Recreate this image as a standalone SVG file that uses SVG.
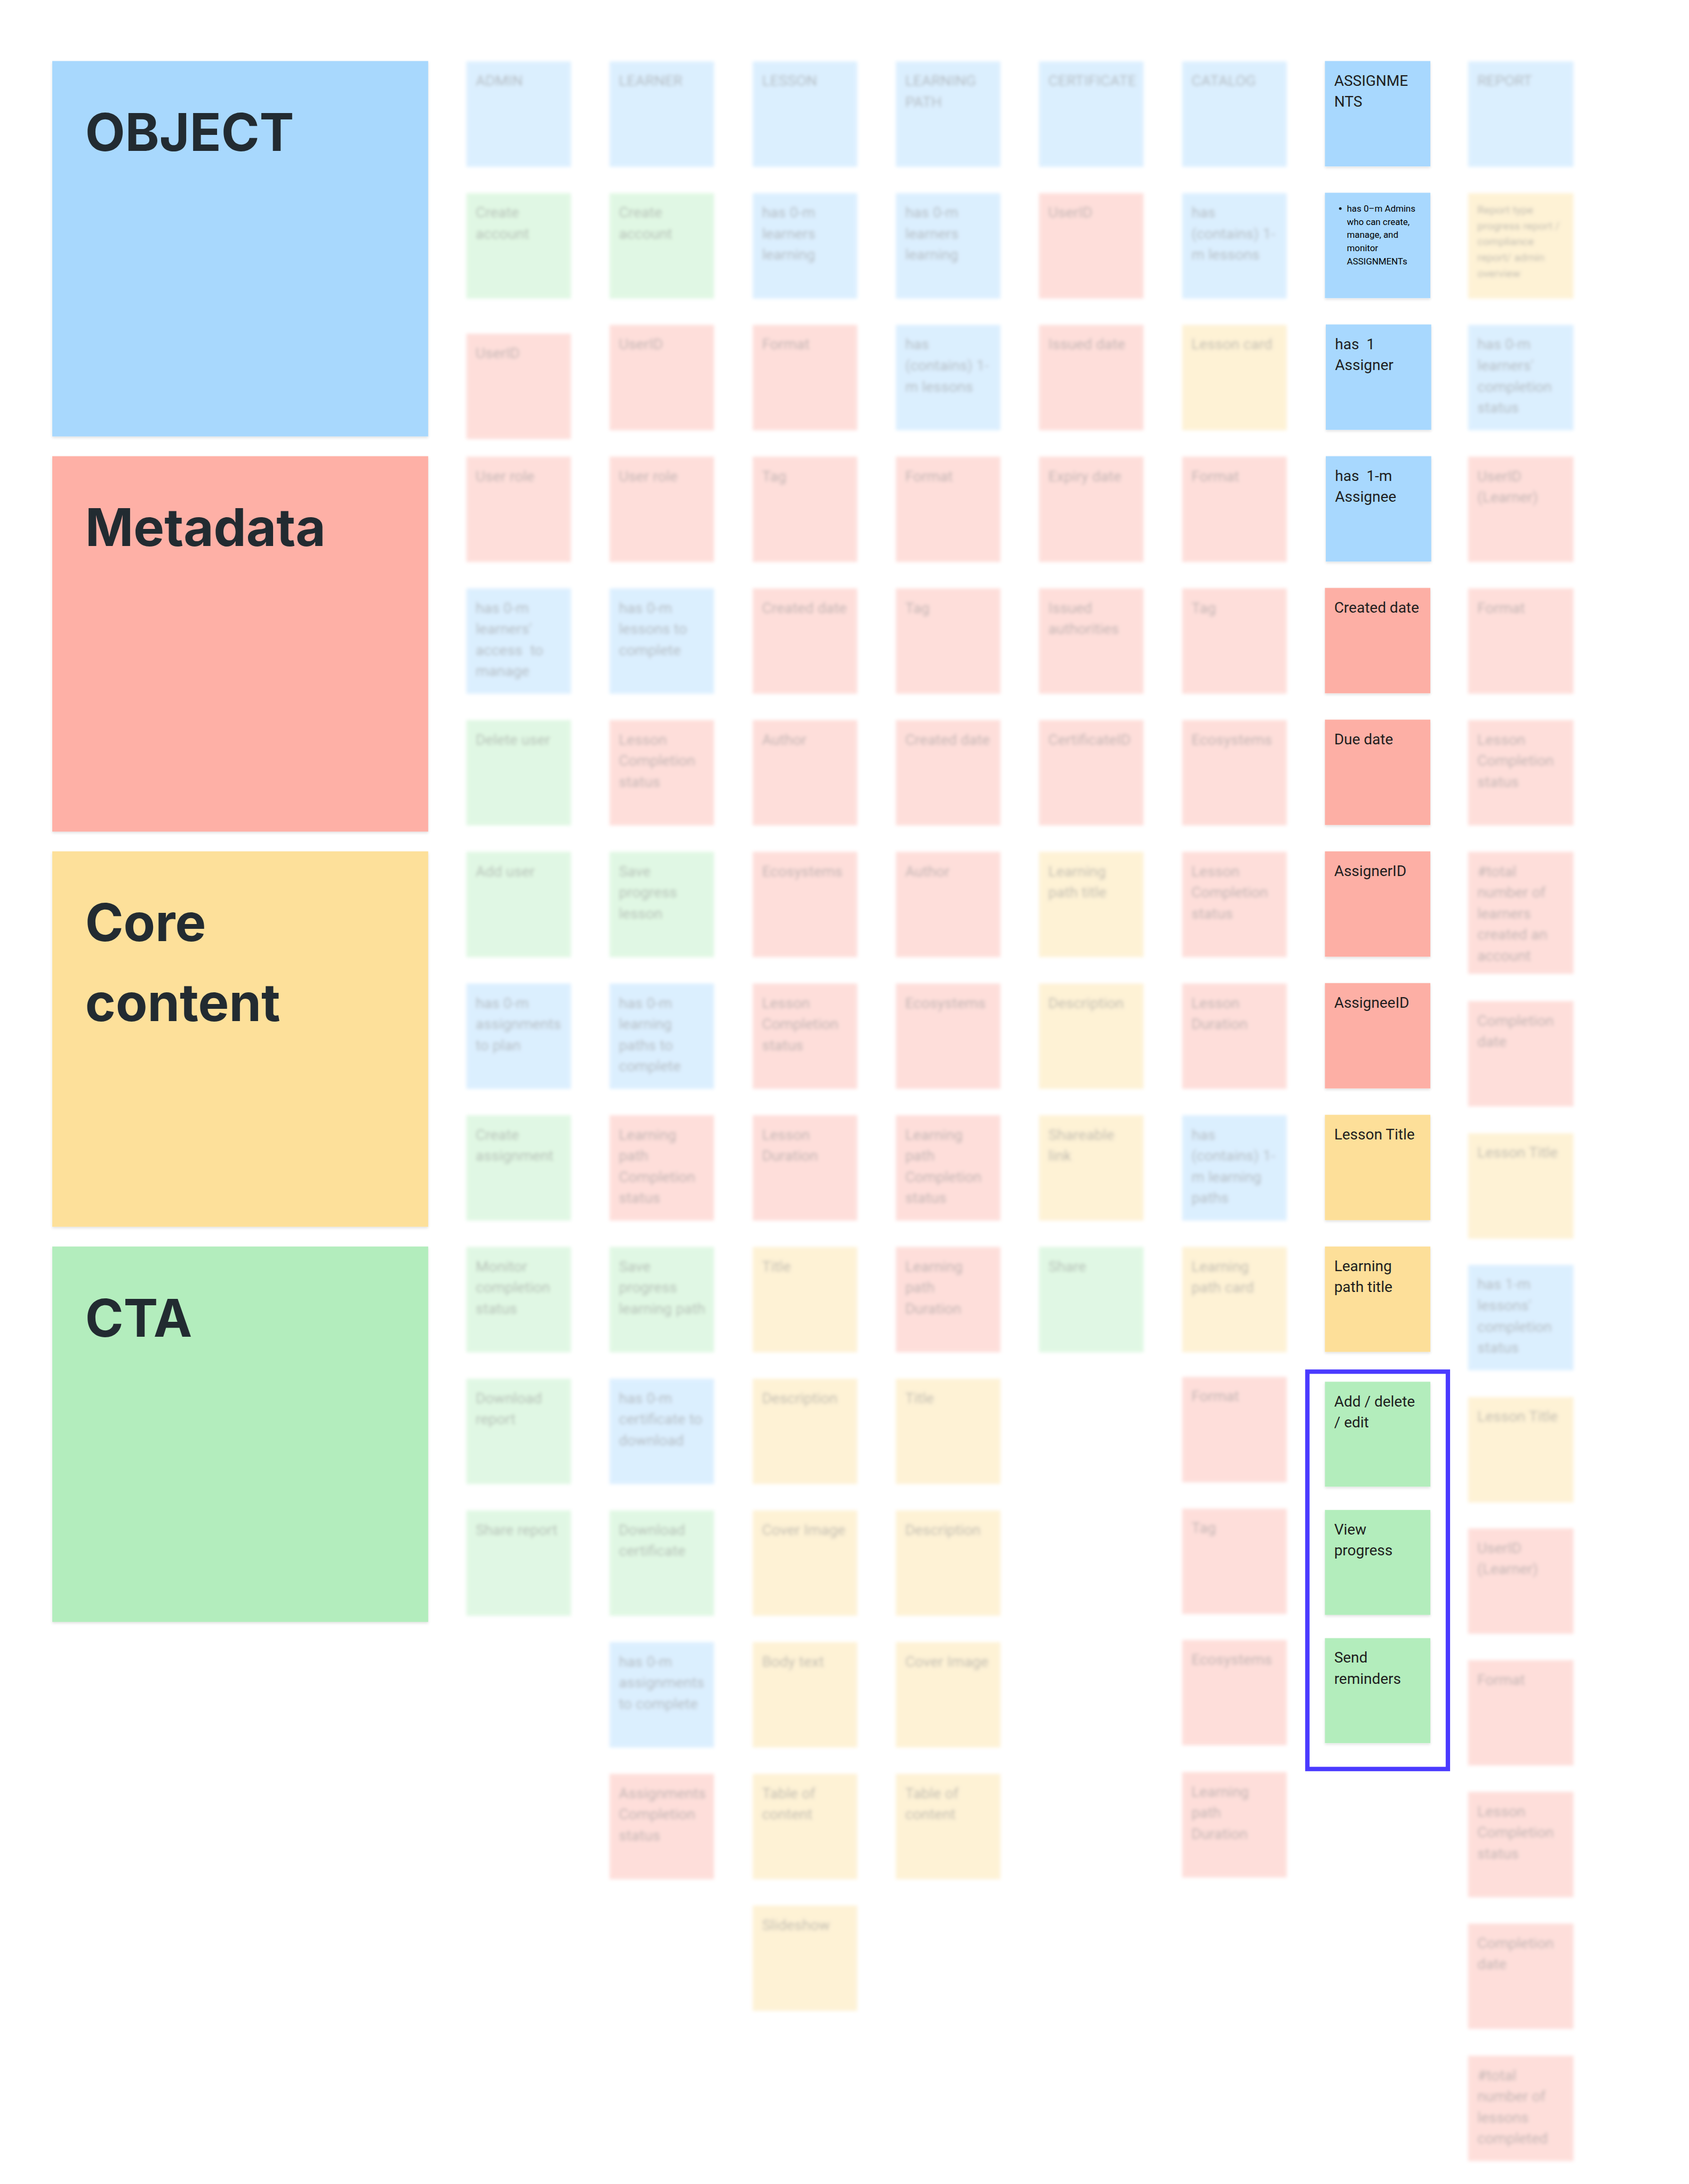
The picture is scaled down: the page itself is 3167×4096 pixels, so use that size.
<svg xmlns="http://www.w3.org/2000/svg" width="3167" height="4096" viewBox="0 0 3167 4096">
<defs>
<style>
.t{font-family:Roboto,"Liberation Sans",sans-serif;font-size:34px;fill:#1e1e1e}
.sm{font-family:Roboto,"Liberation Sans",sans-serif;font-size:20.5px;fill:#000}
.rs{font-family:Roboto,"Liberation Sans",sans-serif;font-size:25px;fill:#1e1e1e}
.big{font-family:Inter,"Liberation Sans",sans-serif;font-weight:700;font-size:118px;fill:#222b31}
.b{fill:#a8d8fe}.r{fill:#fdafa5}.y{fill:#fddf99}.g{fill:#b3edbc}
.bb{fill:#a8d8fd}.br{fill:#feb0a6}.by{fill:#fde09a}.bg{fill:#b3edbd}
#faded .t,#faded .rs{fill:#111}
</style>
<filter id="blur" x="-3%" y="-3%" width="106%" height="106%"><feGaussianBlur stdDeviation="4"/></filter>
<filter id="sh" x="-5%" y="-5%" width="110%" height="115%"><feDropShadow dx="0" dy="3" stdDeviation="3" flood-color="#000" flood-opacity="0.12"/></filter>
</defs>
<rect width="3167" height="4096" fill="#ffffff"/>
<g transform="scale(0.823453)">
<!-- category boxes -->
<g id="cat-object"><rect class="bb" x="119" y="139" width="856" height="855" filter="url(#sh)"/><text class="big" x="194" y="344">OBJECT</text></g>
<g id="cat-metadata"><rect class="br" x="119" y="1039" width="856" height="855" filter="url(#sh)"/><text class="big" x="194" y="1244">Metadata</text></g>
<g id="cat-core"><rect class="by" x="119" y="1939" width="856" height="855" filter="url(#sh)"/><text class="big" x="194" y="2144">Core<tspan x="194" dy="182">content</tspan></text></g>
<g id="cat-cta"><rect class="bg" x="119" y="2839" width="856" height="855" filter="url(#sh)"/><text class="big" x="194" y="3044">CTA</text></g>

<!-- faded, blurred columns -->
<g id="faded" opacity="0.4" filter="url(#blur)">
<g id="admin-0"><rect class="b" x="1062" y="140" width="238" height="240"/><text class="t" x="1083" y="196">ADMIN</text></g>
<g id="admin-1"><rect class="g" x="1062" y="440" width="238" height="240"/><text class="t" x="1083" y="496">Create<tspan x="1083" dy="48">account</tspan></text></g>
<g id="admin-2"><rect class="r" x="1062" y="760" width="238" height="240"/><text class="t" x="1083" y="816">UserID</text></g>
<g id="admin-3"><rect class="r" x="1062" y="1040" width="238" height="240"/><text class="t" x="1083" y="1096">User role</text></g>
<g id="admin-4"><rect class="b" x="1062" y="1340" width="238" height="240"/><text class="t" x="1083" y="1396" xml:space="preserve">has 0-m<tspan x="1083" dy="48">learners'</tspan><tspan x="1083" dy="48">access  to</tspan><tspan x="1083" dy="48">manage</tspan></text></g>
<g id="admin-5"><rect class="g" x="1062" y="1640" width="238" height="240"/><text class="t" x="1083" y="1696">Delete user</text></g>
<g id="admin-6"><rect class="g" x="1062" y="1940" width="238" height="240"/><text class="t" x="1083" y="1996">Add user</text></g>
<g id="admin-7"><rect class="b" x="1062" y="2240" width="238" height="240"/><text class="t" x="1083" y="2296">has 0-m<tspan x="1083" dy="48">assignments</tspan><tspan x="1083" dy="48">to plan</tspan></text></g>
<g id="admin-8"><rect class="g" x="1062" y="2540" width="238" height="240"/><text class="t" x="1083" y="2596">Create<tspan x="1083" dy="48">assignment</tspan></text></g>
<g id="admin-9"><rect class="g" x="1062" y="2840" width="238" height="240"/><text class="t" x="1083" y="2896">Monitor<tspan x="1083" dy="48">completion</tspan><tspan x="1083" dy="48">status</tspan></text></g>
<g id="admin-10"><rect class="g" x="1062" y="3140" width="238" height="240"/><text class="t" x="1083" y="3196">Download<tspan x="1083" dy="48">report</tspan></text></g>
<g id="admin-11"><rect class="g" x="1062" y="3440" width="238" height="240"/><text class="t" x="1083" y="3496">Share report</text></g>

<g id="learner-0"><rect class="b" x="1388" y="140" width="238" height="240"/><text class="t" x="1409" y="196">LEARNER</text></g>
<g id="learner-1"><rect class="g" x="1388" y="440" width="238" height="240"/><text class="t" x="1409" y="496">Create<tspan x="1409" dy="48">account</tspan></text></g>
<g id="learner-2"><rect class="r" x="1388" y="740" width="238" height="240"/><text class="t" x="1409" y="796">UserID</text></g>
<g id="learner-3"><rect class="r" x="1388" y="1040" width="238" height="240"/><text class="t" x="1409" y="1096">User role</text></g>
<g id="learner-4"><rect class="b" x="1388" y="1340" width="238" height="240"/><text class="t" x="1409" y="1396">has 0-m<tspan x="1409" dy="48">lessons to</tspan><tspan x="1409" dy="48">complete</tspan></text></g>
<g id="learner-5"><rect class="r" x="1388" y="1640" width="238" height="240"/><text class="t" x="1409" y="1696">Lesson<tspan x="1409" dy="48">Completion</tspan><tspan x="1409" dy="48">status</tspan></text></g>
<g id="learner-6"><rect class="g" x="1388" y="1940" width="238" height="240"/><text class="t" x="1409" y="1996">Save<tspan x="1409" dy="48">progress</tspan><tspan x="1409" dy="48">lesson</tspan></text></g>
<g id="learner-7"><rect class="b" x="1388" y="2240" width="238" height="240"/><text class="t" x="1409" y="2296">has 0-m<tspan x="1409" dy="48">learning</tspan><tspan x="1409" dy="48">paths to</tspan><tspan x="1409" dy="48">complete</tspan></text></g>
<g id="learner-8"><rect class="r" x="1388" y="2540" width="238" height="240"/><text class="t" x="1409" y="2596">Learning<tspan x="1409" dy="48">path</tspan><tspan x="1409" dy="48">Completion</tspan><tspan x="1409" dy="48">status</tspan></text></g>
<g id="learner-9"><rect class="g" x="1388" y="2840" width="238" height="240"/><text class="t" x="1409" y="2896">Save<tspan x="1409" dy="48">progress</tspan><tspan x="1409" dy="48">learning path</tspan></text></g>
<g id="learner-10"><rect class="b" x="1388" y="3140" width="238" height="240"/><text class="t" x="1409" y="3196">has 0-m<tspan x="1409" dy="48">certificate to</tspan><tspan x="1409" dy="48">download</tspan></text></g>
<g id="learner-11"><rect class="g" x="1388" y="3440" width="238" height="240"/><text class="t" x="1409" y="3496">Download<tspan x="1409" dy="48">certificate</tspan></text></g>
<g id="learner-12"><rect class="b" x="1388" y="3740" width="238" height="240"/><text class="t" x="1409" y="3796">has 0-m<tspan x="1409" dy="48">assignments</tspan><tspan x="1409" dy="48">to complete</tspan></text></g>
<g id="learner-13"><rect class="r" x="1388" y="4040" width="238" height="240"/><text class="t" x="1409" y="4096">Assignments<tspan x="1409" dy="48">Completion</tspan><tspan x="1409" dy="48">status</tspan></text></g>

<g id="lesson-0"><rect class="b" x="1714" y="140" width="238" height="240"/><text class="t" x="1735" y="196">LESSON</text></g>
<g id="lesson-1"><rect class="b" x="1714" y="440" width="238" height="240"/><text class="t" x="1735" y="496">has 0-m<tspan x="1735" dy="48">learners</tspan><tspan x="1735" dy="48">learning</tspan></text></g>
<g id="lesson-2"><rect class="r" x="1714" y="740" width="238" height="240"/><text class="t" x="1735" y="796">Format</text></g>
<g id="lesson-3"><rect class="r" x="1714" y="1040" width="238" height="240"/><text class="t" x="1735" y="1096">Tag</text></g>
<g id="lesson-4"><rect class="r" x="1714" y="1340" width="238" height="240"/><text class="t" x="1735" y="1396">Created date</text></g>
<g id="lesson-5"><rect class="r" x="1714" y="1640" width="238" height="240"/><text class="t" x="1735" y="1696">Author</text></g>
<g id="lesson-6"><rect class="r" x="1714" y="1940" width="238" height="240"/><text class="t" x="1735" y="1996">Ecosystems</text></g>
<g id="lesson-7"><rect class="r" x="1714" y="2240" width="238" height="240"/><text class="t" x="1735" y="2296">Lesson<tspan x="1735" dy="48">Completion</tspan><tspan x="1735" dy="48">status</tspan></text></g>
<g id="lesson-8"><rect class="r" x="1714" y="2540" width="238" height="240"/><text class="t" x="1735" y="2596">Lesson<tspan x="1735" dy="48">Duration</tspan></text></g>
<g id="lesson-9"><rect class="y" x="1714" y="2840" width="238" height="240"/><text class="t" x="1735" y="2896">Title</text></g>
<g id="lesson-10"><rect class="y" x="1714" y="3140" width="238" height="240"/><text class="t" x="1735" y="3196">Description</text></g>
<g id="lesson-11"><rect class="y" x="1714" y="3440" width="238" height="240"/><text class="t" x="1735" y="3496">Cover Image</text></g>
<g id="lesson-12"><rect class="y" x="1714" y="3740" width="238" height="240"/><text class="t" x="1735" y="3796">Body text</text></g>
<g id="lesson-13"><rect class="y" x="1714" y="4040" width="238" height="240"/><text class="t" x="1735" y="4096">Table of<tspan x="1735" dy="48">content</tspan></text></g>
<g id="lesson-14"><rect class="y" x="1714" y="4340" width="238" height="240"/><text class="t" x="1735" y="4396">Slideshow</text></g>

<g id="lpath-0"><rect class="b" x="2040" y="140" width="238" height="240"/><text class="t" x="2061" y="196">LEARNING<tspan x="2061" dy="48">PATH</tspan></text></g>
<g id="lpath-1"><rect class="b" x="2040" y="440" width="238" height="240"/><text class="t" x="2061" y="496">has 0-m<tspan x="2061" dy="48">learners</tspan><tspan x="2061" dy="48">learning</tspan></text></g>
<g id="lpath-2"><rect class="b" x="2040" y="740" width="238" height="240"/><text class="t" x="2061" y="796">has<tspan x="2061" dy="48">(contains) 1-</tspan><tspan x="2061" dy="48">m lessons</tspan></text></g>
<g id="lpath-3"><rect class="r" x="2040" y="1040" width="238" height="240"/><text class="t" x="2061" y="1096">Format</text></g>
<g id="lpath-4"><rect class="r" x="2040" y="1340" width="238" height="240"/><text class="t" x="2061" y="1396">Tag</text></g>
<g id="lpath-5"><rect class="r" x="2040" y="1640" width="238" height="240"/><text class="t" x="2061" y="1696">Created date</text></g>
<g id="lpath-6"><rect class="r" x="2040" y="1940" width="238" height="240"/><text class="t" x="2061" y="1996">Author</text></g>
<g id="lpath-7"><rect class="r" x="2040" y="2240" width="238" height="240"/><text class="t" x="2061" y="2296">Ecosystems</text></g>
<g id="lpath-8"><rect class="r" x="2040" y="2540" width="238" height="240"/><text class="t" x="2061" y="2596">Learning<tspan x="2061" dy="48">path</tspan><tspan x="2061" dy="48">Completion</tspan><tspan x="2061" dy="48">status</tspan></text></g>
<g id="lpath-9"><rect class="r" x="2040" y="2840" width="238" height="240"/><text class="t" x="2061" y="2896">Learning<tspan x="2061" dy="48">path</tspan><tspan x="2061" dy="48">Duration</tspan></text></g>
<g id="lpath-10"><rect class="y" x="2040" y="3140" width="238" height="240"/><text class="t" x="2061" y="3196">Title</text></g>
<g id="lpath-11"><rect class="y" x="2040" y="3440" width="238" height="240"/><text class="t" x="2061" y="3496">Description</text></g>
<g id="lpath-12"><rect class="y" x="2040" y="3740" width="238" height="240"/><text class="t" x="2061" y="3796">Cover Image</text></g>
<g id="lpath-13"><rect class="y" x="2040" y="4040" width="238" height="240"/><text class="t" x="2061" y="4096">Table of<tspan x="2061" dy="48">content</tspan></text></g>

<g id="cert-0"><rect class="b" x="2366" y="140" width="238" height="240"/><text class="t" x="2387" y="196">CERTIFICATE</text></g>
<g id="cert-1"><rect class="r" x="2366" y="440" width="238" height="240"/><text class="t" x="2387" y="496">UserID</text></g>
<g id="cert-2"><rect class="r" x="2366" y="740" width="238" height="240"/><text class="t" x="2387" y="796">Issued date</text></g>
<g id="cert-3"><rect class="r" x="2366" y="1040" width="238" height="240"/><text class="t" x="2387" y="1096">Expiry date</text></g>
<g id="cert-4"><rect class="r" x="2366" y="1340" width="238" height="240"/><text class="t" x="2387" y="1396">Issued<tspan x="2387" dy="48">authorities</tspan></text></g>
<g id="cert-5"><rect class="r" x="2366" y="1640" width="238" height="240"/><text class="t" x="2387" y="1696">CertificateID</text></g>
<g id="cert-6"><rect class="y" x="2366" y="1940" width="238" height="240"/><text class="t" x="2387" y="1996">Learning<tspan x="2387" dy="48">path title</tspan></text></g>
<g id="cert-7"><rect class="y" x="2366" y="2240" width="238" height="240"/><text class="t" x="2387" y="2296">Description</text></g>
<g id="cert-8"><rect class="y" x="2366" y="2540" width="238" height="240"/><text class="t" x="2387" y="2596">Shareable<tspan x="2387" dy="48">link</tspan></text></g>
<g id="cert-9"><rect class="g" x="2366" y="2840" width="238" height="240"/><text class="t" x="2387" y="2896">Share</text></g>

<g id="catalog-0"><rect class="b" x="2692" y="140" width="238" height="240"/><text class="t" x="2713" y="196">CATALOG</text></g>
<g id="catalog-1"><rect class="b" x="2692" y="440" width="238" height="240"/><text class="t" x="2713" y="496">has<tspan x="2713" dy="48">(contains) 1-</tspan><tspan x="2713" dy="48">m lessons</tspan></text></g>
<g id="catalog-2"><rect class="y" x="2692" y="740" width="238" height="240"/><text class="t" x="2713" y="796">Lesson card</text></g>
<g id="catalog-3"><rect class="r" x="2692" y="1040" width="238" height="240"/><text class="t" x="2713" y="1096">Format</text></g>
<g id="catalog-4"><rect class="r" x="2692" y="1340" width="238" height="240"/><text class="t" x="2713" y="1396">Tag</text></g>
<g id="catalog-5"><rect class="r" x="2692" y="1640" width="238" height="240"/><text class="t" x="2713" y="1696">Ecosystems</text></g>
<g id="catalog-6"><rect class="r" x="2692" y="1940" width="238" height="240"/><text class="t" x="2713" y="1996">Lesson<tspan x="2713" dy="48">Completion</tspan><tspan x="2713" dy="48">status</tspan></text></g>
<g id="catalog-7"><rect class="r" x="2692" y="2240" width="238" height="240"/><text class="t" x="2713" y="2296">Lesson<tspan x="2713" dy="48">Duration</tspan></text></g>
<g id="catalog-8"><rect class="b" x="2692" y="2540" width="238" height="240"/><text class="t" x="2713" y="2596">has<tspan x="2713" dy="48">(contains) 1-</tspan><tspan x="2713" dy="48">m learning</tspan><tspan x="2713" dy="48">paths</tspan></text></g>
<g id="catalog-9"><rect class="y" x="2692" y="2840" width="238" height="240"/><text class="t" x="2713" y="2896">Learning<tspan x="2713" dy="48">path card</tspan></text></g>
<g id="catalog-10"><rect class="r" x="2692" y="3136" width="238" height="240"/><text class="t" x="2713" y="3192">Format</text></g>
<g id="catalog-11"><rect class="r" x="2692" y="3436" width="238" height="240"/><text class="t" x="2713" y="3492">Tag</text></g>
<g id="catalog-12"><rect class="r" x="2692" y="3735" width="238" height="240"/><text class="t" x="2713" y="3791">Ecosystems</text></g>
<g id="catalog-13"><rect class="r" x="2692" y="4036" width="238" height="240"/><text class="t" x="2713" y="4092">Learning<tspan x="2713" dy="48">path</tspan><tspan x="2713" dy="48">Duration</tspan></text></g>

<g id="report-0"><rect class="b" x="3343" y="140" width="240" height="240"/><text class="t" x="3364" y="196">REPORT</text></g>
<g id="report-1"><rect class="y" x="3343" y="440" width="240" height="240"/><text class="rs" x="3364" y="487">Report type<tspan x="3364" dy="36">progress report /</tspan><tspan x="3364" dy="36">compliance</tspan><tspan x="3364" dy="36">report/ admin</tspan><tspan x="3364" dy="36">overview</tspan></text></g>
<g id="report-2"><rect class="b" x="3343" y="740" width="240" height="240"/><text class="t" x="3364" y="796">has 0-m<tspan x="3364" dy="48">learners'</tspan><tspan x="3364" dy="48">completion</tspan><tspan x="3364" dy="48">status</tspan></text></g>
<g id="report-3"><rect class="r" x="3343" y="1040" width="240" height="240"/><text class="t" x="3364" y="1096">UserID<tspan x="3364" dy="48">(Learner)</tspan></text></g>
<g id="report-4"><rect class="r" x="3343" y="1340" width="240" height="240"/><text class="t" x="3364" y="1396">Format</text></g>
<g id="report-5"><rect class="r" x="3343" y="1640" width="240" height="240"/><text class="t" x="3364" y="1696">Lesson<tspan x="3364" dy="48">Completion</tspan><tspan x="3364" dy="48">status</tspan></text></g>
<g id="report-6"><rect class="r" x="3343" y="1940" width="240" height="278"/><text class="t" x="3364" y="1996">#total<tspan x="3364" dy="48">number of</tspan><tspan x="3364" dy="48">learners</tspan><tspan x="3364" dy="48">created an</tspan><tspan x="3364" dy="48">account</tspan></text></g>
<g id="report-7"><rect class="r" x="3343" y="2280" width="240" height="240"/><text class="t" x="3364" y="2336">Completion<tspan x="3364" dy="48">date</tspan></text></g>
<g id="report-8"><rect class="y" x="3343" y="2581" width="240" height="240"/><text class="t" x="3364" y="2637">Lesson Title</text></g>
<g id="report-9"><rect class="b" x="3343" y="2881" width="240" height="240"/><text class="t" x="3364" y="2937">has 1-m<tspan x="3364" dy="48">lessons'</tspan><tspan x="3364" dy="48">completion</tspan><tspan x="3364" dy="48">status</tspan></text></g>
<g id="report-10"><rect class="y" x="3343" y="3182" width="240" height="240"/><text class="t" x="3364" y="3238">Lesson Title</text></g>
<g id="report-11"><rect class="r" x="3343" y="3481" width="240" height="240"/><text class="t" x="3364" y="3537">UserID<tspan x="3364" dy="48">(Learner)</tspan></text></g>
<g id="report-12"><rect class="r" x="3343" y="3781" width="240" height="240"/><text class="t" x="3364" y="3837">Format</text></g>
<g id="report-13"><rect class="r" x="3343" y="4081" width="240" height="240"/><text class="t" x="3364" y="4137">Lesson<tspan x="3364" dy="48">Completion</tspan><tspan x="3364" dy="48">status</tspan></text></g>
<g id="report-14"><rect class="r" x="3343" y="4381" width="240" height="240"/><text class="t" x="3364" y="4437">Completion<tspan x="3364" dy="48">date</tspan></text></g>
<g id="report-15"><rect class="r" x="3343" y="4682" width="240" height="240"/><text class="t" x="3364" y="4738">#total<tspan x="3364" dy="48">number of</tspan><tspan x="3364" dy="48">lessons</tspan><tspan x="3364" dy="48">completed</tspan></text></g>
</g>

<!-- highlighted ASSIGNMENTS column -->
<g id="assignments-column">
<g id="asg-0"><rect class="b" x="3017" y="139" width="240" height="240" filter="url(#sh)"/><text class="t" x="3038" y="195">ASSIGNME<tspan x="3038" dy="48">NTS</tspan></text></g>
<g id="asg-1"><rect class="b" x="3017" y="439" width="240" height="240" filter="url(#sh)"/><circle cx="3052" cy="475" r="3" fill="#000"/><text class="sm" x="3067" y="482">has 0–m Admins<tspan x="3067" dy="30">who can create,</tspan><tspan x="3067" dy="30">manage, and</tspan><tspan x="3067" dy="30">monitor</tspan><tspan x="3067" dy="30">ASSIGNMENTs</tspan></text></g>
<g id="asg-2"><rect class="b" x="3019" y="739" width="240" height="240" filter="url(#sh)"/><text class="t" x="3040" y="795" xml:space="preserve">has  1<tspan x="3040" dy="48">Assigner</tspan></text></g>
<g id="asg-3"><rect class="b" x="3019" y="1039" width="240" height="240" filter="url(#sh)"/><text class="t" x="3040" y="1095" xml:space="preserve">has  1-m<tspan x="3040" dy="48">Assignee</tspan></text></g>
<g id="asg-4"><rect class="r" x="3017" y="1339" width="240" height="240" filter="url(#sh)"/><text class="t" x="3038" y="1395">Created date</text></g>
<g id="asg-5"><rect class="r" x="3017" y="1639" width="240" height="240" filter="url(#sh)"/><text class="t" x="3038" y="1695">Due date</text></g>
<g id="asg-6"><rect class="r" x="3017" y="1939" width="240" height="240" filter="url(#sh)"/><text class="t" x="3038" y="1995">AssignerID</text></g>
<g id="asg-7"><rect class="r" x="3017" y="2239" width="240" height="240" filter="url(#sh)"/><text class="t" x="3038" y="2295">AssigneeID</text></g>
<g id="asg-8"><rect class="y" x="3017" y="2539" width="240" height="240" filter="url(#sh)"/><text class="t" x="3038" y="2595">Lesson Title</text></g>
<g id="asg-9"><rect class="y" x="3017" y="2839" width="240" height="240" filter="url(#sh)"/><text class="t" x="3038" y="2895">Learning<tspan x="3038" dy="48">path title</tspan></text></g>
<g id="cta-frame"><rect x="2977" y="3124" width="320" height="905" fill="none" stroke="#4a3aff" stroke-width="10"/></g>
<g id="asg-10"><rect class="g" x="3017" y="3147" width="240" height="239" filter="url(#sh)"/><text class="t" x="3038" y="3203">Add / delete<tspan x="3038" dy="48">/ edit</tspan></text></g>
<g id="asg-11"><rect class="g" x="3017" y="3439" width="240" height="239" filter="url(#sh)"/><text class="t" x="3038" y="3495">View<tspan x="3038" dy="48">progress</tspan></text></g>
<g id="asg-12"><rect class="g" x="3017" y="3731" width="240" height="239" filter="url(#sh)"/><text class="t" x="3038" y="3787">Send<tspan x="3038" dy="48">reminders</tspan></text></g>
</g>
<g id="connectors"/>
</g>
</svg>
